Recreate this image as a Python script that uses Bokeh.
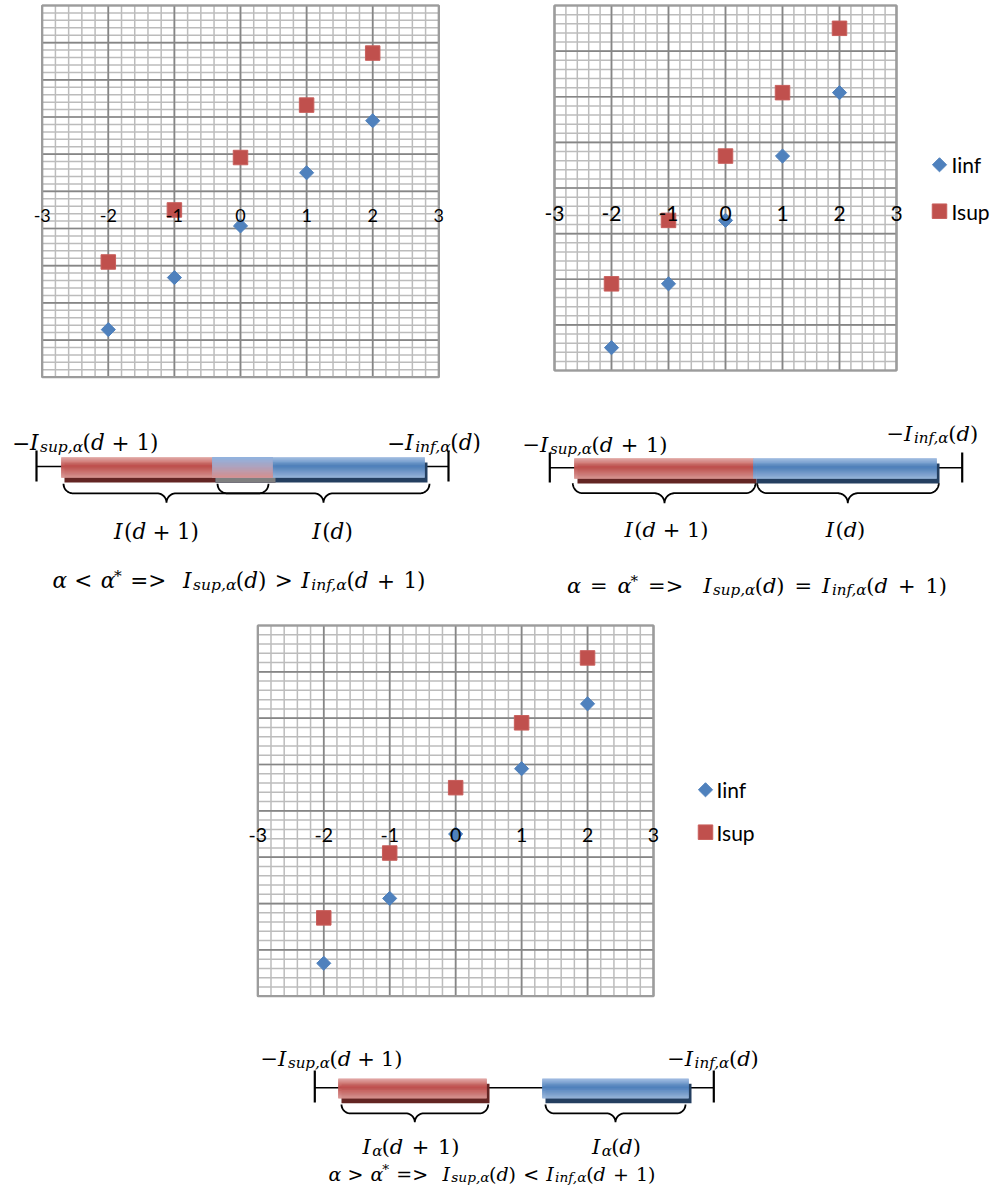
import numpy as np
from bokeh.plotting import figure
from bokeh.models import Range1d, LinearAxis, FixedTicker, ColumnDataSource
from bokeh.core.properties import value
from bokeh.embed import file_html
from bokeh.resources import INLINE

# ---------------- data ----------------
d_values = [-2, -1, 0, 1, 2]
x_ticks = [-3, -2, -1, 0, 1, 2, 3]
x_tick_labels = ["-3", "-2", "-1", "0", "1", "2", "3"]
series_names = ["Iinf", "Isup"]

# alpha < alpha*
tl_iinf = [-3.72, -2.32, -0.93, 0.50, 1.90]
tl_isup = [-1.90, -0.50, 0.91, 2.32, 3.72]
# alpha = alpha*
tr_iinf = [-3.50, -2.10, -0.71, 0.70, 2.09]
tr_isup = [-2.10, -0.71, 0.70, 2.09, 3.50]
# alpha > alpha*
bt_iinf = [-3.29, -1.89, -0.50, 0.91, 2.31]
bt_isup = [-2.31, -0.91, 0.50, 1.90, 3.30]

BLUE = "#4f81bd"
RED = "#c0504d"
MINOR = "#bcbcbc"
MAJOR = "#868686"
BORDER = "#9c9c9c"

W, H = 990, 1187
OX, OY = 0, 0

p = figure(width=W, height=H, x_range=Range1d(OX, OX + W), y_range=Range1d(OY + H, OY),
           output_backend="svg", toolbar_location=None, x_axis_type=None, y_axis_type=None,
           min_border=0, outline_line_color=None)
p.background_fill_color = "white"
p.border_fill_color = "white"


def add_chart(key, L, R, T, B, xr, yr, iinf, isup, lab_px, standoff):
    x0, x1 = xr
    y0, y1 = yr
    sx = (x1 - x0) / (R - L)
    sy = (y1 - y0) / (B - T)
    xn, yn = key + "_x", key + "_y"
    p.extra_x_ranges[xn] = Range1d(x0 - (L - OX) * sx, x1 + (OX + W - R) * sx)
    p.extra_y_ranges[yn] = Range1d(y0 - (OY + H - B) * sy, y1 + (T - OY) * sy)
    kw = dict(x_range_name=xn, y_range_name=yn)
    gx = np.linspace(x0, x1, int(round((x1 - x0) * 5)) + 1)
    gy = np.linspace(y0, y1, int(round((y1 - y0) * 5)) + 1)
    p.segment(x0=gx, y0=np.full_like(gx, y0), x1=gx, y1=np.full_like(gx, y1),
              line_color=MINOR, line_width=1.5, **kw)
    p.segment(x0=np.full_like(gy, x0), y0=gy, x1=np.full_like(gy, x1), y1=gy,
              line_color=MINOR, line_width=1.5, **kw)
    mx = np.arange(x0, x1 + 0.5, 1.0)
    my = np.arange(y0, y1 + 0.5, 1.0)
    p.segment(x0=mx, y0=np.full_like(mx, y0), x1=mx, y1=np.full_like(mx, y1),
              line_color=MAJOR, line_width=1.7, **kw)
    p.segment(x0=np.full_like(my, x0), y0=my, x1=np.full_like(my, x1), y1=my,
              line_color=MAJOR, line_width=1.7, **kw)
    p.quad(left=[x0], right=[x1], bottom=[y0], top=[y1], fill_color=None,
           line_color=BORDER, line_width=2.2, **kw)
    p.scatter(d_values, iinf, marker="square", angle=np.pi / 4, size=10,
              fill_color=BLUE, line_color=BLUE, **kw)
    p.scatter(d_values, isup, marker="square", size=14.5,
              fill_color=RED, line_color="#c85f5c", **kw)
    ax = LinearAxis(x_range_name=xn, y_range_name=yn, fixed_location=0, bounds=(x0, x1),
                    ticker=FixedTicker(ticks=x_ticks, minor_ticks=[]),
                    major_label_overrides=dict(zip(x_ticks, x_tick_labels)),
                    axis_line_color=None, major_tick_line_color=None,
                    minor_tick_line_color=None, major_tick_out=0, major_tick_in=0,
                    major_label_standoff=standoff, major_label_text_font="Lato",
                    major_label_text_font_size=f"{lab_px}px",
                    major_label_text_color="#000000")
    p.add_layout(ax, "below")


add_chart("tl", 41.7, 438.3, 5, 376.7, (-3, 3), (-5, 5), tl_iinf, tl_isup, 18, 18)
add_chart("tr", 554, 896, 5, 370, (-3, 3), (-4, 4), tr_iinf, tr_isup, 21, 18)
add_chart("bt", 257.3, 653, 625, 995.7, (-3, 3), (-4, 4), bt_iinf, bt_isup, 19.5, 17)


def add_legend(xm, ya, yb, xt, size_px):
    p.scatter([xm], [ya], marker="square", angle=np.pi / 4, size=10,
              fill_color=BLUE, line_color=BLUE)
    p.scatter([xm], [yb], marker="square", size=14.5, fill_color=RED, line_color="#c85f5c")
    p.text(x=[xt, xt], y=[ya, yb], text=series_names, text_font=value("Lato"),
           text_font_size=f"{size_px}px", text_baseline="middle", text_align="left",
           text_color="#000000")


add_legend(939, 164.3, 210.7, 951, 21)
add_legend(705, 789.3, 831.7, 716, 21)

# ---------------- interval diagrams ----------------
RED_STOPS = [(0.0, "#e2a9a7"), (0.45, "#c0504d"), (1.0, "#d99694")]
BLUE_STOPS = [(0.0, "#a3bfe2"), (0.45, "#4f81bd"), (1.0, "#9ab7dc")]
MIX_STOPS = [(0.0, "#90b4e2"), (0.5, "#b3a4bd"), (1.0, "#d88f8d")]


def hex2rgb(h):
    h = h.lstrip("#")
    return np.array([int(h[i:i + 2], 16) for i in (0, 2, 4)], dtype=float)


def interp(stops, t):
    for (t0, c0), (t1, c1) in zip(stops[:-1], stops[1:]):
        if t <= t1:
            f = (t - t0) / (t1 - t0)
            c = hex2rgb(c0) * (1 - f) + hex2rgb(c1) * f
            return "#%02x%02x%02x" % tuple(int(round(v)) for v in c)
    return stops[-1][1]


def grad_bar(x0, x1, yt, yb, stops, n=24):
    ys = np.linspace(yt, yb, n + 1)
    mids = (ys[:-1] + ys[1:]) / 2
    cols = [interp(stops, (m - yt) / (yb - yt)) for m in mids]
    p.quad(left=[x0] * n, right=[x1] * n, top=ys[:-1], bottom=ys[1:],
           fill_color=cols, line_color=cols, line_width=0.6)


def brace(x0, x1, xc, yt, r, n=14):
    ym = yt + r
    xs, ys = [], []
    t = np.linspace(np.pi, np.pi / 2, n)
    xs += list(x0 + r + r * np.cos(t)); ys += list(yt + r * np.sin(t))
    t = np.linspace(-np.pi / 2, 0, n)
    xs += list(xc - r + r * np.cos(t)); ys += list(ym + r + r * np.sin(t))
    t = np.linspace(np.pi, 1.5 * np.pi, n)
    xs += list(xc + r + r * np.cos(t)); ys += list(ym + r + r * np.sin(t))
    t = np.linspace(np.pi / 2, 0, n)
    xs += list(x1 - r + r * np.cos(t)); ys += list(yt + r * np.sin(t))
    p.line(xs, ys, line_color="black", line_width=1.8)


def diagram(line_x, line_y, tick_y, red, blue, bar_y, braces, brace_top, r):
    p.segment(x0=[line_x[0]], y0=[line_y], x1=[line_x[1]], y1=[line_y],
              line_color="black", line_width=1.6)
    p.segment(x0=list(line_x), y0=[tick_y[0]] * 2, x1=list(line_x), y1=[tick_y[1]] * 2,
              line_color="black", line_width=2.2)
    dx, dy = 3, 5
    yt, yb = bar_y
    p.quad(left=[red[0] + dx], right=[red[1] + dx], top=[yt + dy], bottom=[yb + dy],
           fill_color="#632523", line_color=None)
    p.quad(left=[blue[0] + dx], right=[blue[1] + dx], top=[yt + dy], bottom=[yb + dy],
           fill_color="#243f60", line_color=None)
    if red[1] > blue[0]:
        p.quad(left=[blue[0] + dx], right=[red[1] + dx], top=[yt + dy], bottom=[yb + dy],
               fill_color="#7f7f7f", line_color=None)
    grad_bar(red[0], red[1], yt, yb, RED_STOPS)
    grad_bar(blue[0], blue[1], yt, yb, BLUE_STOPS)
    if red[1] > blue[0]:
        grad_bar(blue[0], red[1], yt, yb, MIX_STOPS)
    for (a, b, c) in braces:
        brace(a, b, c, brace_top, r)


# alpha < alpha*: the intervals overlap
diagram((36, 448), 466, (450, 481), (61, 272), (212, 424), (457, 477),
        [(63, 268, 166), (217, 429, 323)], 483.3, 9.5)
# alpha = alpha*: the intervals touch
diagram((549.3, 961.7), 467.3, (452, 482), (574, 753), (753, 936), (458, 478),
        [(572.3, 755, 664), (756.7, 938.3, 847.3)], 482.7, 10)
# alpha > alpha*: the intervals are disjoint
diagram((314.3, 713.3), 1087.3, (1070, 1102), (338, 486), (542, 688), (1078.3, 1097.7),
        [(341, 487.7, 414.3), (545, 685, 615)], 1104, 8.9)

# ---------------- math labels ----------------
EMR = {" ": 0.318, "(": 0.390, ")": 0.390, "+": 0.838, ",": 0.318, "1": 0.636,
       "=": 0.838, "<": 0.838, ">": 0.838, "\u2212": 0.838, "*": 0.5}
EMI = {"I": 0.466, "d": 0.641, "s": 0.535, "u": 0.641, "p": 0.641, "i": 0.322,
       "n": 0.644, "f": 0.37, "\u03b1": 0.62, ",": 0.318}
MATH_FONT = "DejaVu Serif"
rows = {k: dict(x=[], y=[], t=[], fs=[]) for k in ("r", "i", "sub", "sup")}


def place_math(segs, x, base, S, align="center", target=None):
    ss = 0.72 * S
    tokens = []
    for text, st in segs:
        size = S if st in ("r", "i") else ss
        table = EMR if st in ("r", "sup") else EMI
        parts = text.split(" ")
        for k, part in enumerate(parts):
            if k > 0:
                tokens.append([None, st, 0.318 * size])
            if part:
                tokens.append([part, st, sum(table.get(c, 0.6) for c in part) * size])
    gaps = [tk for tk in tokens if tk[0] is None]
    if target is not None and gaps:
        solid = sum(tk[2] for tk in tokens if tk[0] is not None)
        g = max(1.0, (target - solid) / len(gaps))
        for tk in gaps:
            tk[2] = g
    total = sum(tk[2] for tk in tokens)
    cx = x if align == "left" else (x - total / 2 if align == "center" else x - total)
    for part, st, w in tokens:
        if part is not None:
            yy = base + (0.2 * S if st == "sub" else (-0.22 * S if st == "sup" else 0))
            size = S if st in ("r", "i") else ss
            rows[st]["x"].append(cx)
            rows[st]["y"].append(yy)
            rows[st]["t"].append(part)
            rows[st]["fs"].append(f"{size:.1f}px")
        cx += w


NEG_SUP = [("\u2212", "r"), ("I", "i"), ("sup,\u03b1", "sub"), ("(", "r"), ("d", "i"), (" + 1)", "r")]
NEG_INF = [("\u2212", "r"), ("I", "i"), ("inf,\u03b1", "sub"), ("(", "r"), ("d", "i"), (")", "r")]
I_D1 = [("I", "i"), ("(", "r"), ("d", "i"), (" + 1)", "r")]
I_D = [("I", "i"), ("(", "r"), ("d", "i"), (")", "r")]
IA_D1 = [("I", "i"), ("\u03b1", "sub"), ("(", "r"), ("d", "i"), (" + 1)", "r")]
IA_D = [("I", "i"), ("\u03b1", "sub"), ("(", "r"), ("d", "i"), (")", "r")]


def cond(rel1, rel2):
    return [("\u03b1", "i"), (f" {rel1} ", "r"), ("\u03b1", "i"), ("*", "sup"), (" =>  ", "r"),
            ("I", "i"), ("sup,\u03b1", "sub"), ("(", "r"), ("d", "i"), (")", "r"),
            (f" {rel2} ", "r"), ("I", "i"), ("inf,\u03b1", "sub"), ("(", "r"), ("d", "i"),
            (" + 1)", "r")]


S1, S2, S3 = 21.5, 21, 21
place_math(NEG_SUP, 158, 442, S1, "right")
place_math(NEG_INF, 433.5, 442, S1, "center")
place_math(I_D1, 156, 531, S1, "center", 85)
place_math(I_D, 332, 531, S1, "center")
place_math(cond("<", ">"), 238.5, 580, S1, "center", 373)

place_math(NEG_SUP, 594.5, 444, S2, "center", 145)
place_math(NEG_INF, 886, 433, S2, "left")
place_math(I_D1, 666, 529, S2, "center")
place_math(I_D, 845, 529, S2, "center")
place_math(cond("=", "="), 756.5, 585, S2, "center", 380)

place_math(NEG_SUP, 331, 1058, S3, "center", 142)
place_math(NEG_INF, 712.5, 1058, S3, "center")
place_math(IA_D1, 410.5, 1146, S3, "center", 97)
place_math(IA_D, 616, 1146, S3, "center")
place_math(cond(">", "<"), 491.5, 1173, 19, "center", 327)

for st, style in (("r", "normal"), ("i", "italic"), ("sub", "italic"), ("sup", "normal")):
    src = ColumnDataSource(rows[st])
    p.text(x="x", y="y", text="t", source=src, text_font=value(MATH_FONT),
           text_font_style=style, text_font_size="fs", text_baseline="alphabetic",
           text_align="left", text_color="black")

open("out.html", "w").write(file_html(p, INLINE))
